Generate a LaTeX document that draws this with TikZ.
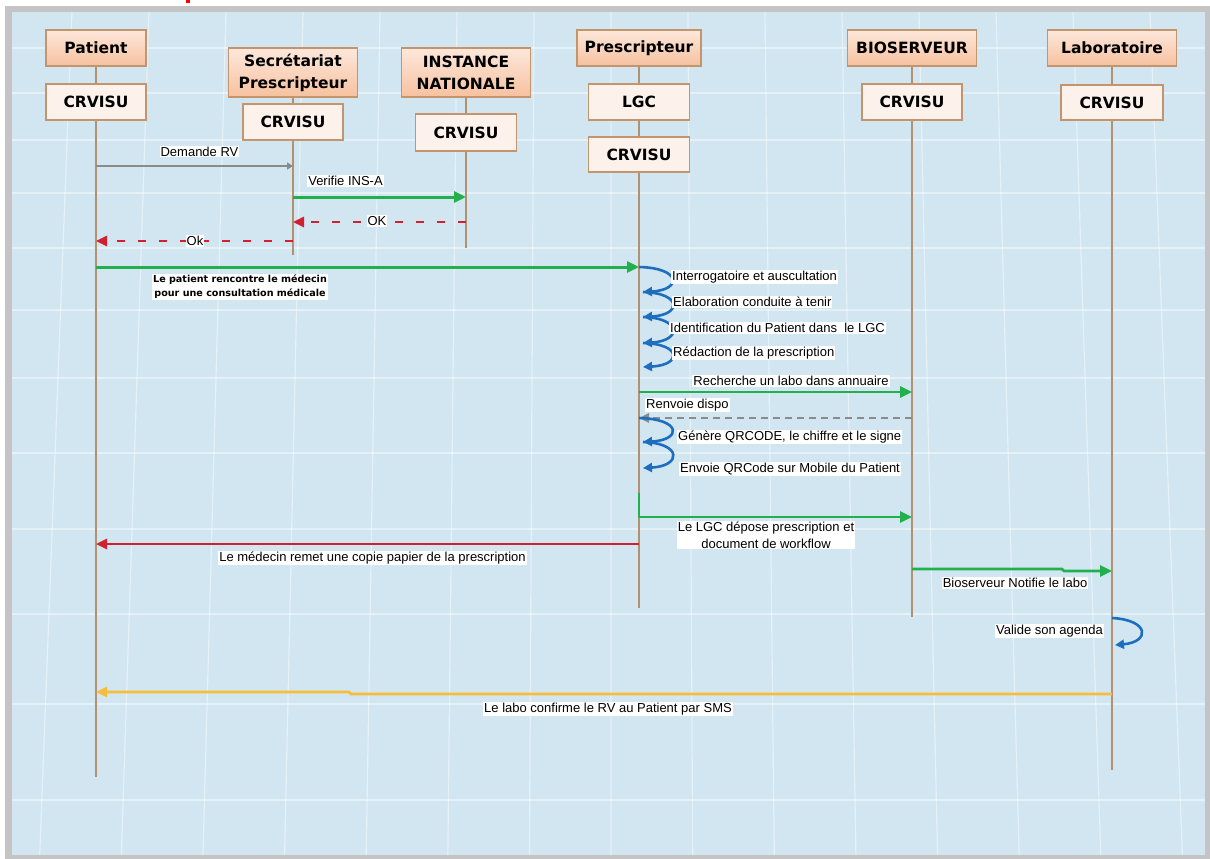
\documentclass[tikz,border=0pt]{standalone}
\usepackage{fontspec}
\setmainfont{Liberation Sans}
\newfontfamily\hdrfont{DejaVu Sans}
\usetikzlibrary{arrows.meta}
\definecolor{bgblue}{HTML}{D1E6F1}
\definecolor{frame}{HTML}{C4C4C4}
\definecolor{hdrtop}{HTML}{FDE8DB}
\definecolor{hdrbot}{HTML}{F6C19F}
\definecolor{brd}{HTML}{C4946C}
\definecolor{subfill}{HTML}{FDF2EB}
\definecolor{life}{HTML}{B3906F}
\definecolor{mgreen}{HTML}{21B04B}
\definecolor{mred}{HTML}{D1202F}
\definecolor{mblue}{HTML}{1E6EBF}
\definecolor{morange}{HTML}{F7BD38}
\definecolor{mgray}{HTML}{8B8B8B}
\tikzset{
  hdr/.style={draw=brd, line width=1.5pt, top color=hdrtop, bottom color=hdrbot,
    font=\hdrfont\bfseries\fontsize{15.5}{22}\selectfont, align=center, inner sep=0pt},
  sub/.style={draw=brd, line width=1.5pt, fill=subfill,
    font=\hdrfont\bfseries\fontsize{15.5}{22}\selectfont, align=center, inner sep=0pt},
  lifeline/.style={draw=life, line width=1.4pt},
  lbl/.style={fill=white, inner sep=1pt, font=\fontsize{13}{15}\selectfont},
  blbl/.style={fill=white, inner sep=1pt, align=center, font=\hdrfont\bfseries\fontsize{9.6}{14}\selectfont},
  gmsg/.style={draw=mgreen, line width=3pt, -{Triangle[length=12pt,width=11pt]}},
  rmsg/.style={draw=mred, line width=2.6pt, -{Triangle[length=11pt,width=10pt]}},
  rdash/.style={draw=mred, line width=2.6pt, dash pattern=on 8pt off 13pt, -{Triangle[length=11pt,width=10pt]}},
  gydash/.style={draw=mgray, line width=2.6pt, dash pattern=on 7pt off 5pt, -{Triangle[length=10pt,width=9pt]}},
  omsg/.style={draw=morange, line width=2.6pt, -{Triangle[length=11pt,width=10pt]}},
  selfloop/.style={draw=mblue, line width=2.6pt, -{Triangle[length=9pt,width=9pt]}},
  gridl/.style={draw=white, line width=1.2pt, opacity=0.45}
}
\begin{document}
\begin{tikzpicture}[x=1pt,y=-1pt]
\useasboundingbox (0,0) rectangle (1210,859);
\fill[white] (0,0) rectangle (1210,859);
\fill[red] (186,0) rectangle (190,3);
\fill[frame] (5,6) rectangle (1210,859);
\fill[bgblue] (12,12) rectangle (1205,855);
% background grid
\foreach \yy in {48,93,140,193,248,310,378,453,529,614,704,800}
  \draw[gridl] (12,\yy) -- (1205,\yy);
\foreach \k in {0,...,14}{
  \pgfmathsetmacro{\xt}{72+77*\k}
  \pgfmathsetmacro{\xb}{610+(\xt-610)*1.06}
  \draw[gridl] (\xt,12) -- (\xb,855);
}
% participants
\node[hdr, minimum width=100pt, minimum height=36pt] (patH) at (96,48) {Patient};
\node[sub, minimum width=100pt, minimum height=36pt] (patC) at (96,102) {CRVISU};
\node[hdr, minimum width=129pt, minimum height=49pt] (secH) at (293,72.5) {Secrétariat\\Prescripteur};
\node[sub, minimum width=100pt, minimum height=36pt] (secC) at (293,122) {CRVISU};
\node[hdr, minimum width=129pt, minimum height=49pt] (insH) at (466,72.5) {INSTANCE\\NATIONALE};
\node[sub, minimum width=101pt, minimum height=37pt] (insC) at (466,132.5) {CRVISU};
\node[hdr, minimum width=124pt, minimum height=36pt] (preH) at (639,48) {Prescripteur};
\node[sub, minimum width=101pt, minimum height=36pt] (preL) at (639,102) {LGC};
\node[sub, minimum width=101pt, minimum height=35pt] (preC) at (639,154.5) {CRVISU};
\node[hdr, minimum width=129pt, minimum height=36pt] (bioH) at (912,48) {BIOSERVEUR};
\node[sub, minimum width=100pt, minimum height=36pt] (bioC) at (912,102) {CRVISU};
\node[hdr, minimum width=129pt, minimum height=36pt] (labH) at (1112,48) {Laboratoire};
\node[sub, minimum width=102pt, minimum height=35pt] (labC) at (1112,102.5) {CRVISU};
% lifeline ends
\coordinate (patE) at (96,777);
\coordinate (secE) at (293,255);
\coordinate (insE) at (466,248);
\coordinate (preE) at (639,608);
\coordinate (bioE) at (912,617);
\coordinate (labE) at (1112,770);
\draw[lifeline] (patH) -- (patC) (patC) -- (patE);
\draw[lifeline] (secH) -- (secC) (secC) -- (secE);
\draw[lifeline] (insH) -- (insC) (insC) -- (insE);
\draw[lifeline] (preH) -- (preL) (preL) -- (preC) (preC) -- (preE);
\draw[lifeline] (bioH) -- (bioC) (bioC) -- (bioE);
\draw[lifeline] (labH) -- (labC) (labC) -- (labE);
% message end points
\coordinate (m1a) at (96,166);   \coordinate (m1b) at (293,166);
\coordinate (m2a) at (293,197);  \coordinate (m2b) at (466,197);
\coordinate (m3a) at (466,222);  \coordinate (m3b) at (293,222);
\coordinate (m4a) at (293,241);  \coordinate (m4b) at (96,241);
\coordinate (m5a) at (96,267);   \coordinate (m5b) at (639,267);
\coordinate (m7a) at (639,392);  \coordinate (m7b) at (912,392);
\coordinate (m8a) at (912,418);  \coordinate (m8b) at (639,418);
\coordinate (m10a) at (639,493); \coordinate (m10c) at (639,517); \coordinate (m10b) at (912,517);
\coordinate (m11a) at (639,544); \coordinate (m11b) at (96,544);
\coordinate (m12a) at (912,569); \coordinate (m12b) at (1112,571);
\coordinate (m14a) at (1112,694);\coordinate (m14b) at (96,692);
% messages
\draw[draw=mgray, line width=1.5pt, -{Triangle[length=6pt,width=7pt]}] (m1a) -- (m1b);
\node[lbl] (t1) at (199.5,151.5) {Demande RV};
\draw[gmsg] (m2a) -- (m2b);
\node[lbl] (t2) at (345.5,181) {Verifie INS-A};
\draw[rdash] (m3a) -- (m3b);
\node[lbl] (t3) at (377,221) {OK};
\draw[rdash] (m4a) -- (m4b);
\node[lbl] (t4) at (195,241) {Ok};
\draw[gmsg] (m5a) -- (m5b);
\node[blbl] (t5) at (240,287) {Le patient rencontre le médecin\\pour une consultation médicale};
% self loops prescripteur
\coordinate (s0) at (639,267);
\coordinate (s1) at (643,292);
\coordinate (s2) at (643,317);
\coordinate (s3) at (643,343);
\coordinate (s4) at (643,367);
\draw[selfloop] (s0) .. controls (682,268) and (682,290) .. (s1);
\draw[selfloop] (s1) .. controls (682,293) and (682,315) .. (s2);
\draw[selfloop] (s2) .. controls (682,318) and (682,341) .. (s3);
\draw[selfloop] (s3) .. controls (682,344) and (682,365) .. (s4);
\node[lbl, anchor=west] (t6a) at (671,277) {Interrogatoire et auscultation};
\node[lbl, anchor=west] (t6b) at (672,302) {Elaboration conduite à tenir};
\node[lbl, anchor=west] (t6c) at (669,328) {Identification du Patient dans~~le LGC};
\node[lbl, anchor=west] (t6d) at (672,353) {Rédaction de la prescription};
\draw[gmsg, line width=2.6pt] (m7a) -- (m7b);
\node[lbl] (t7) at (791,381) {Recherche un labo dans annuaire};
\draw[gydash] (m8a) -- (m8b);
\node[lbl, anchor=west] (t8) at (645,405) {Renvoie dispo};
\coordinate (q0) at (639,418);
\coordinate (q1) at (643,442);
\coordinate (q2) at (643,468);
\draw[selfloop] (q0) .. controls (682,419) and (682,440) .. (q1);
\draw[selfloop] (q1) .. controls (682,443) and (682,466) .. (q2);
\node[lbl, anchor=west] (t9a) at (677,437) {Génère QRCODE, le chiffre et le signe};
\node[lbl, anchor=west] (t9b) at (679,469) {Envoie QRCode sur Mobile du Patient};
\draw[gmsg, line width=2.6pt] (m10a) -- (m10c) -- (m10b);
\node[lbl, align=center, font=\fontsize{13}{17}\selectfont] (t10) at (766,535) {Le LGC dépose prescription et\\document de workflow};
\draw[rmsg] (m11a) -- (m11b);
\node[lbl] (t11) at (372.5,558) {Le médecin remet une copie papier de la prescription};
\draw[gmsg, line width=2.6pt] (m12a) -- (1062,569) -- (1064,571) -- (m12b);
\node[lbl] (t12) at (1015,583) {Bioserveur Notifie le labo};
\coordinate (v0) at (1112,618);
\coordinate (v1) at (1115,645);
\draw[selfloop] (v0) .. controls (1150,620) and (1150,642) .. (v1);
\node[lbl, anchor=east] (t13) at (1104,631) {Valide son agenda};
\draw[omsg] (m14a) -- (351,694) -- (349,692) -- (m14b);
\node[lbl] (t14) at (608,709) {Le labo confirme le RV au Patient par SMS};
\end{tikzpicture}
\end{document}
